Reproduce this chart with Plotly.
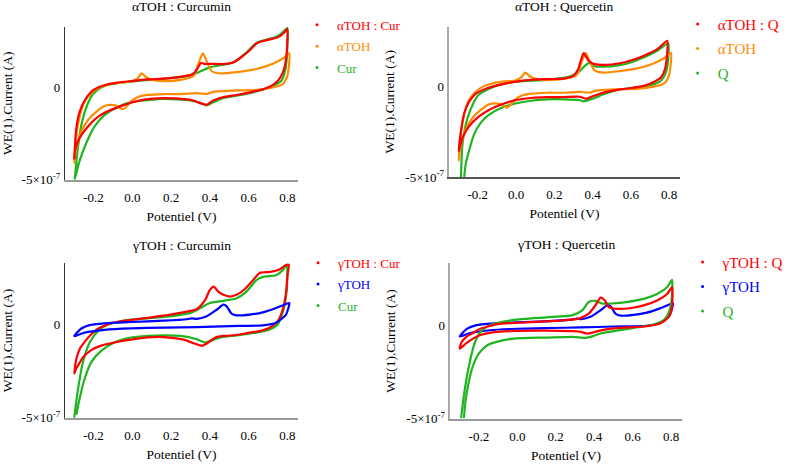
import plotly.graph_objects as go

SCALE = 1e-7  # values below are in units of 1e-7 A

# ---------- shared tick labels ----------
X_TICKS = [-0.2, 0.0, 0.2, 0.4, 0.6, 0.8]
X_TICKTEXT = ["-0.2", "0.0", "0.2", "0.4", "0.6", "0.8"]
Y_TICKS = [-5e-7, 0]
Y_TICKTEXT = ["-5×10<sup>-7</sup>", "0"]

# ---------- αTOH alone (panels A and B) ----------
aTOH_x = [-0.300, -0.289, -0.270, -0.250, -0.210, -0.170, -0.120, -0.060, 0.000, 0.030,
          0.047, 0.070, 0.095, 0.163, 0.248, 0.316, 0.342, 0.364, 0.384, 0.410,
          0.452, 0.538, 0.640, 0.725, 0.785, 0.810,
          0.800, 0.776, 0.725, 0.640, 0.504, 0.418, 0.384, 0.333, 0.248,
          0.163, 0.078, 0.027, -0.007, -0.032, -0.050, -0.076, -0.110, -0.144, -0.186,
          -0.229, -0.263, -0.289, -0.300]
aTOH_y = [-4.10, -2.60, -1.50, -0.85, -0.30, -0.02, 0.15, 0.25, 0.32, 0.50,
          0.74, 0.55, 0.42, 0.33, 0.39, 0.60, 1.30, 1.82, 1.39, 0.86,
          0.74, 0.81, 0.98, 1.26, 1.61, 1.82,
          0.60, 0.16, -0.02, -0.14, -0.19, -0.25, -0.37, -0.32, -0.37,
          -0.37, -0.42, -0.54, -0.77, -1.07, -1.19, -1.02, -0.95, -1.02, -1.33,
          -1.77, -2.39, -3.26, -4.10]

# ---------- γTOH alone (panels C and D) ----------
gTOH_x = [-0.300, -0.263, -0.212, -0.144, -0.007, 0.163, 0.282, 0.308, 0.333, 0.384,
          0.435, 0.470, 0.487, 0.512, 0.538, 0.606, 0.674, 0.742, 0.785, 0.810,
          0.793, 0.742, 0.674, 0.504, 0.333, 0.163, -0.007, -0.144, -0.246, -0.289, -0.300]
gTOH_y = [-0.60, -0.20, 0.00, 0.08, 0.15, 0.22, 0.30, 0.35, 0.32, 0.46,
          0.81, 1.08, 0.99, 0.60, 0.51, 0.55, 0.67, 0.90, 1.08, 1.17,
          0.55, 0.11, -0.03, -0.07, -0.12, -0.15, -0.19, -0.27, -0.42, -0.58, -0.60]

# ---------- Panel A: αTOH : Curcumin ----------
A_mix_x = [-0.300, -0.289, -0.272, -0.246, -0.212, -0.178, -0.127, -0.076, -0.007, 0.078,
           0.163, 0.248, 0.308, 0.333, 0.354, 0.376, 0.400, 0.470, 0.520, 0.555,
           0.597, 0.640, 0.674, 0.725, 0.760, 0.785, 0.800,
           0.800, 0.793, 0.776, 0.750, 0.717, 0.674, 0.606, 0.538, 0.470, 0.418,
           0.384, 0.359, 0.300, 0.214, 0.129, 0.061, -0.007, -0.059, -0.127, -0.178,
           -0.229, -0.272, -0.297, -0.300]
A_mix_y = [-3.90, -2.20, -1.33, -0.72, -0.25, -0.02, 0.16, 0.25, 0.33, 0.42,
           0.46, 0.56, 0.68, 0.95, 1.30, 1.25, 1.26, 1.25, 1.33, 1.56,
           1.91, 2.35, 2.49, 2.61, 2.74, 2.96, 3.14,
           2.53, 1.47, 0.77, 0.33, 0.07, -0.11, -0.28, -0.42, -0.54, -0.72,
           -0.95, -0.89, -0.68, -0.60, -0.60, -0.67, -0.84, -1.02, -1.30, -1.60,
           -2.12, -2.74, -3.44, -3.90]
A_cur_x = [-0.297, -0.283, -0.263, -0.237, -0.203, -0.161, -0.110, -0.007, 0.163, 0.282,
           0.333, 0.400, 0.470, 0.520, 0.588, 0.640, 0.690, 0.740, 0.776, 0.800,
           0.800, 0.790, 0.768, 0.733, 0.674, 0.606, 0.538, 0.470, 0.418, 0.384,
           0.350, 0.300, 0.163, 0.078, -0.007, -0.076, -0.144, -0.195, -0.237, -0.272, -0.294]
A_cur_y = [-4.98, -3.44, -2.04, -1.07, -0.37, -0.02, 0.16, 0.30, 0.46, 0.60,
           0.77, 1.07, 1.21, 1.33, 1.86, 2.39, 2.56, 2.70, 2.96, 3.19,
           2.18, 0.95, 0.33, 0.11, -0.14, -0.32, -0.46, -0.58, -0.81, -0.98,
           -0.84, -0.72, -0.63, -0.70, -0.81, -1.07, -1.51, -2.12, -3.00, -3.96, -4.84]

# ---------- Panel B: αTOH : Quercetin ----------
B_mix_x = [-0.300, -0.288, -0.271, -0.246, -0.212, -0.161, -0.093, -0.008, 0.077, 0.162,
           0.247, 0.298, 0.324, 0.353, 0.375, 0.400, 0.468, 0.536, 0.604, 0.672,
           0.740, 0.790,
           0.790, 0.778, 0.757, 0.723, 0.672, 0.604, 0.536, 0.468, 0.400, 0.366,
           0.332, 0.247, 0.162, 0.077, -0.008, -0.076, -0.144, -0.195, -0.246, -0.280,
           -0.297, -0.300]
B_mix_y = [-3.57, -2.49, -1.51, -0.88, -0.43, -0.16, 0.05, 0.23, 0.34, 0.38,
           0.41, 0.56, 0.91, 1.81, 1.45, 1.24, 1.16, 1.24, 1.42, 1.68,
           2.04, 2.49,
           1.81, 0.91, 0.47, 0.23, 0.02, -0.11, -0.20, -0.34, -0.56, -0.70,
           -0.59, -0.61, -0.61, -0.66, -0.79, -1.02, -1.33, -1.68, -2.22, -2.85,
           -3.48, -3.57]
B_q_x = [-0.288, -0.280, -0.254, -0.220, -0.195, -0.144, -0.093, -0.008, 0.162, 0.281,
         0.324, 0.358, 0.383, 0.409, 0.450, 0.536, 0.604, 0.672, 0.740, 0.795,
         0.795, 0.783, 0.757, 0.706, 0.638, 0.536, 0.450, 0.400, 0.349, 0.332,
         0.247, 0.162, 0.077, -0.008, -0.076, -0.144, -0.186, -0.220, -0.246, -0.263, -0.271]
B_q_y = [-5.00, -3.20, -1.77, -0.88, -0.48, -0.16, 0.05, 0.23, 0.34, 0.52,
         0.73, 1.09, 1.27, 1.09, 1.06, 1.13, 1.31, 1.59, 1.95, 2.35,
         1.45, 0.73, 0.29, 0.05, -0.07, -0.20, -0.48, -0.70, -0.84, -0.77,
         -0.73, -0.73, -0.81, -0.97, -1.20, -1.60, -2.04, -2.67, -3.57, -4.28, -5.00]

# ---------- Panel C: γTOH : Curcumin ----------
C_mix_x = [-0.300, -0.289, -0.272, -0.246, -0.212, -0.178, -0.127, -0.059, 0.078, 0.163,
           0.248, 0.333, 0.376, 0.400, 0.420, 0.444, 0.470, 0.504, 0.538, 0.580,
           0.623, 0.657, 0.708, 0.759, 0.790, 0.807,
           0.800, 0.793, 0.776, 0.750, 0.708, 0.657, 0.606, 0.538, 0.470, 0.428,
           0.384, 0.359, 0.316, 0.265, 0.163, 0.078, -0.007, -0.093, -0.161, -0.212,
           -0.255, -0.280, -0.290, -0.300]
C_mix_y = [-2.63, -1.84, -1.31, -0.92, -0.51, -0.21, 0.02, 0.19, 0.37, 0.49,
           0.64, 0.85, 1.34, 1.87, 2.05, 1.78, 1.61, 1.52, 1.61, 1.91,
           2.40, 2.79, 2.84, 2.97, 3.20, 3.25,
           2.58, 1.70, 0.81, 0.19, -0.16, -0.34, -0.42, -0.55, -0.60, -0.69,
           -1.01, -1.13, -0.99, -0.80, -0.66, -0.68, -0.80, -0.95, -1.12, -1.36,
           -1.75, -2.19, -2.35, -2.63]
C_cur_x = [-0.300, -0.280, -0.255, -0.220, -0.178, -0.127, -0.007, 0.163, 0.300, 0.350,
           0.400, 0.470, 0.538, 0.589, 0.640, 0.674, 0.742, 0.776, 0.797,
           0.797, 0.780, 0.750, 0.708, 0.640, 0.538, 0.452, 0.400, 0.376, 0.333,
           0.248, 0.163, 0.078, 0.000, -0.093, -0.161, -0.212, -0.246, -0.272, -0.289]
C_cur_y = [-5.00, -3.43, -2.01, -0.95, -0.34, 0.02, 0.28, 0.42, 0.64, 0.90,
           1.17, 1.29, 1.43, 1.78, 2.40, 2.58, 2.67, 2.93, 3.25,
           1.87, 0.81, 0.02, -0.25, -0.42, -0.57, -0.69, -0.87, -0.95, -0.78,
           -0.60, -0.57, -0.60, -0.67, -0.95, -1.40, -2.01, -2.90, -3.96, -4.84]

# ---------- Panel D: γTOH : Quercetin ----------
D_mix_x = [-0.300, -0.290, -0.265, -0.231, -0.205, -0.150, -0.103, -0.018, 0.067, 0.237,
           0.322, 0.373, 0.407, 0.433, 0.455, 0.475, 0.510, 0.594, 0.662, 0.730,
           0.781, 0.805,
           0.805, 0.790, 0.747, 0.662, 0.526, 0.441, 0.390, 0.365, 0.322, 0.152,
           -0.018, -0.137, -0.205, -0.265, -0.300]
D_mix_y = [-1.26, -0.91, -0.62, -0.42, -0.25, -0.06, 0.06, 0.12, 0.16, 0.26,
           0.35, 0.63, 1.07, 1.47, 1.33, 0.98, 0.88, 0.92, 1.07, 1.33,
           1.68, 2.04,
           0.98, 0.46, 0.11, -0.07, -0.14, -0.26, -0.40, -0.45, -0.34, -0.29,
           -0.31, -0.40, -0.58, -0.96, -1.26]
D_q_x = [-0.293, -0.273, -0.248, -0.222, -0.188, -0.137, -0.018, 0.152, 0.288, 0.339,
         0.373, 0.407, 0.441, 0.492, 0.577, 0.662, 0.730, 0.781, 0.805,
         0.805, 0.790, 0.764, 0.713, 0.628, 0.526, 0.441, 0.390, 0.356, 0.288,
         0.152, 0.067, -0.018, -0.103, -0.154, -0.197, -0.231, -0.253, -0.270, -0.278]
D_q_y = [-4.96, -3.40, -2.00, -0.95, -0.33, 0.02, 0.28, 0.42, 0.54, 0.81,
         1.25, 1.30, 1.16, 1.16, 1.25, 1.42, 1.68, 2.04, 2.42,
         1.51, 0.72, 0.28, 0.05, -0.11, -0.28, -0.42, -0.60, -0.68, -0.62,
         -0.66, -0.68, -0.72, -0.88, -1.06, -1.47, -2.18, -3.05, -4.10, -4.96]

# ---------- styling ----------
RED = "#FF0000"
ORANGE = "#FF8C00"
GREEN = "#1FB51F"
BLUE = "#0000FF"
FONT = "Liberation Serif"

PANELS = [
    dict(title="αTOH : Curcumin", sfx="", legend="legend",
         series=[("Cur", A_cur_x, A_cur_y, GREEN), ("αTOH", aTOH_x, aTOH_y, ORANGE),
                 ("αTOH : Cur", A_mix_x, A_mix_y, RED)],
         legend_order=[("αTOH : Cur", RED), ("αTOH", ORANGE), ("Cur", GREEN)]),
    dict(title="αTOH : Quercetin", sfx="2", legend="legend2",
         series=[("Q", B_q_x, B_q_y, GREEN), ("αTOH", aTOH_x, aTOH_y, ORANGE),
                 ("αTOH : Q", B_mix_x, B_mix_y, RED)],
         legend_order=[("αTOH : Q", RED), ("αTOH", ORANGE), ("Q", GREEN)]),
    dict(title="γTOH : Curcumin", sfx="3", legend="legend3",
         series=[("Cur", C_cur_x, C_cur_y, GREEN), ("γTOH : Cur", C_mix_x, C_mix_y, RED),
                 ("γTOH", gTOH_x, gTOH_y, BLUE)],
         legend_order=[("γTOH : Cur", RED), ("γTOH", BLUE), ("Cur", GREEN)]),
    dict(title="γTOH : Quercetin", sfx="4", legend="legend4",
         series=[("γTOH", gTOH_x, gTOH_y, BLUE), ("Q", D_q_x, D_q_y, GREEN),
                 ("γTOH : Q", D_mix_x, D_mix_y, RED)],
         legend_order=[("γTOH : Q", RED), ("γTOH", BLUE), ("Q", GREEN)]),
]

W, H = 789, 470
# pixel geometry of each panel: (x0, x1, ytop, ybottom)
GEOM = [(66, 303, 27, 183), (457, 691, 27, 180), (66, 303, 268, 425), (458, 693, 268, 426)]
YMAX = [3.27e-7, 3.27e-7, 3.3e-7, 3.3e-7]
LEG_POS = [(302, 10, 13, 1.5), (689, 8, 15, 2.0), (303, 252, 13, 1.5), (694, 250, 15, 2.0)]
TITLE_Y = [7, 7, 250, 249]
XLINE = [("#9a9a9a", 2), ("#555555", 1.5), ("#9a9a9a", 2), ("#9a9a9a", 2)]
YLINE = [("#333333", 1), ("#aaaaaa", 1.5), ("#333333", 1), ("#aaaaaa", 1.5)]

fig = go.Figure()
layout = dict(
    width=W, height=H, margin=dict(l=0, r=0, t=0, b=0),
    paper_bgcolor="white", plot_bgcolor="white",
    font=dict(family=FONT, size=13, color="black"),
    showlegend=True, annotations=[],
)

for i, p in enumerate(PANELS):
    sfx = p["sfx"]
    xa, ya = "x" + sfx, "y" + sfx
    for name, xs, ys, col in p["series"]:
        fig.add_trace(go.Scatter(
            x=xs, y=[v * SCALE for v in ys], mode="lines", name=name,
            line=dict(color=col, width=2.2, shape="spline", smoothing=0.6),
            xaxis=xa, yaxis=ya, showlegend=False, hoverinfo="skip"))
    for k, (name, col) in enumerate(p["legend_order"]):
        fig.add_trace(go.Scatter(
            x=[None], y=[None], mode="markers", xaxis=xa, yaxis=ya,
            name=f'<span style="color:{col}">{name}</span>',
            marker=dict(color=col, size=3), legend=p["legend"],
            legendgroup=f"g{i}_{k}", showlegend=True))

    x0, x1, yt, yb = GEOM[i]
    lx, ly, lfs, lgap = LEG_POS[i]
    layout["xaxis" + sfx] = dict(
        domain=[x0 / W, x1 / W], anchor=ya, range=[-0.348, 0.855],
        tickvals=X_TICKS, ticktext=X_TICKTEXT, showgrid=False, zeroline=False,
        showline=True, linecolor=XLINE[i][0], linewidth=XLINE[i][1],
        ticks="outside", ticklen=5, tickcolor="rgba(0,0,0,0)",
        tickfont=dict(size=13, family=FONT, color="black"),
        title=dict(text="Potentiel (V)", font=dict(size=13.5, family=FONT, color="black"),
                   standoff=7))
    layout["yaxis" + sfx] = dict(
        domain=[1 - yb / H, 1 - yt / H], anchor=xa, range=[-5e-7, YMAX[i]],
        tickvals=Y_TICKS, ticktext=Y_TICKTEXT, showgrid=False, zeroline=False,
        showline=True, linecolor=YLINE[i][0], linewidth=YLINE[i][1],
        ticks="outside", ticklen=1, tickcolor="rgba(0,0,0,0)",
        tickfont=dict(size=13, family=FONT, color="black"),
        title=dict(text="WE(1).Current (A)", font=dict(size=13.5, family=FONT, color="black"),
                   standoff=8))
    layout[p["legend"]] = dict(
        x=lx / W, y=1 - ly / H, xanchor="left", yanchor="top",
        bgcolor="rgba(0,0,0,0)", borderwidth=0, tracegroupgap=lgap,
        font=dict(family=FONT, size=lfs), itemclick=False)
    layout["annotations"].append(dict(
        text=p["title"], xref="paper", yref="paper",
        x=(x0 + x1) / 2 / W, y=1 - TITLE_Y[i] / H, xanchor="center", yanchor="middle",
        showarrow=False, font=dict(size=13.5, family=FONT, color="black")))

fig.update_layout(**layout)
fig.write_html("out.html")
